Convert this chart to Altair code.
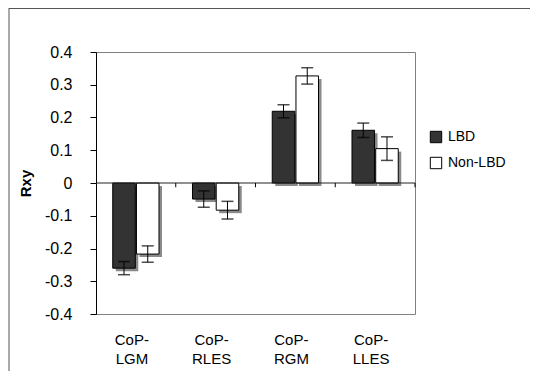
import altair as alt
import pandas as pd

categories = ["CoP-LGM", "CoP-RLES", "CoP-RGM", "CoP-LLES"]
groups = ["LBD", "Non-LBD"]
lbd_values = [-0.26, -0.049, 0.219, 0.161]
lbd_errors = [0.02, 0.025, 0.02, 0.022]
non_values = [-0.217, -0.083, 0.327, 0.105]
non_errors = [0.025, 0.027, 0.025, 0.036]
y_ticks = [-0.4, -0.3, -0.2, -0.1, 0, 0.1, 0.2, 0.3, 0.4]
group_colors = ["#333333", "#ffffff"]

rows = []
for i, c in enumerate(categories):
    rows.append({"cat": c, "group": "LBD", "value": lbd_values[i],
                 "lo": lbd_values[i] - lbd_errors[i], "hi": lbd_values[i] + lbd_errors[i]})
    rows.append({"cat": c, "group": "Non-LBD", "value": non_values[i],
                 "lo": non_values[i] - non_errors[i], "hi": non_values[i] + non_errors[i]})
df = pd.DataFrame(rows)
cat_df = pd.DataFrame({"cat": categories})
zero_df = pd.DataFrame({"z": [0]})

FONT = "Liberation Sans"
W, H = 319, 262
P_IN = 0.42
step = W / len(categories)
bandw = step * (1 - P_IN)
SH = 3  # shadow offset in px

x_enc = alt.X("cat:N", sort=categories, title=None,
              scale=alt.Scale(paddingInner=P_IN, paddingOuter=P_IN / 2),
              axis=alt.Axis(labelAngle=0, ticks=False, domain=False,
                            labelExpr="[slice(datum.label,0,4), slice(datum.label,4)]",
                            labelFont=FONT, labelFontSize=15, labelLineHeight=19,
                            labelPadding=18, labelOffset=-4, labelColor="black"))
xo_enc = alt.XOffset("group:N", sort=groups,
                     scale=alt.Scale(paddingInner=0.05, range=[0, bandw]))
xo_shadow = alt.XOffset("group:N", sort=groups,
                        scale=alt.Scale(paddingInner=0.05, range=[SH, bandw + SH]))

y_scale = alt.Scale(domain=[-0.4, 0.4], nice=False, zero=False)
y_axis = alt.Axis(values=y_ticks, grid=False, domainColor="black",
                  tickColor="black", tickSize=6, labelPadding=18,
                  labelOverlap=False, tickCount=9,
                  labelExpr="(datum.value < 0 ? '-' : '') + format(abs(datum.value), '.1~f')",
                  labelFont=FONT, labelFontSize=16, labelColor="black",
                  titleFont=FONT, titleFontSize=15, titleFontWeight="bold",
                  titleX=-71, titleY=131, titleAlign="center",
                  titleBaseline="middle", titleColor="black")


def Y(field):
    return alt.Y(field, title="Rxy", scale=y_scale, axis=y_axis)


base = alt.Chart(df)

shadow = base.mark_bar(color="#8a8a8a", yOffset=SH, y2Offset=SH).encode(
    x=x_enc, xOffset=xo_shadow, y=Y("value:Q"))

bars = base.mark_bar(stroke="black", strokeWidth=1).encode(
    x=x_enc, xOffset=xo_enc, y=Y("value:Q"),
    color=alt.Color("group:N", sort=groups,
                    scale=alt.Scale(domain=groups, range=group_colors),
                    legend=alt.Legend(title=None, orient="none", legendX=333, legendY=78,
                                      symbolType="square", symbolSize=130,
                                      symbolStrokeColor="black", symbolStrokeWidth=1,
                                      labelFont=FONT, labelFontSize=14, labelColor="black",
                                      labelOffset=5, rowPadding=10, padding=0)))

zero_line = alt.Chart(zero_df).mark_rule(color="#222222", strokeWidth=1).encode(
    y=Y("z:Q"))

zero_ticks = alt.Chart(cat_df).mark_rule(color="black", strokeWidth=1,
                                         xOffset=P_IN * step / 2).encode(
    x=alt.X("cat:N", sort=categories, bandPosition=1),
    y=alt.datum(0), y2=alt.datum(-0.013))

err_rule = base.mark_rule(color="black", strokeWidth=1).encode(
    x=x_enc, xOffset=xo_enc, y=Y("lo:Q"), y2="hi:Q")
cap_lo = base.mark_tick(color="black", size=12, thickness=1.5, orient="horizontal").encode(
    x=x_enc, xOffset=xo_enc, y=Y("lo:Q"))
cap_hi = base.mark_tick(color="black", size=12, thickness=1.5, orient="horizontal").encode(
    x=x_enc, xOffset=xo_enc, y=Y("hi:Q"))

frame_top = alt.Chart(zero_df).mark_rule(color="#555555", strokeWidth=1).encode(
    x=alt.value(-87), x2=alt.value(W + 115), y=alt.value(-43.5))
frame_left = alt.Chart(zero_df).mark_rule(color="#555555", strokeWidth=1).encode(
    x=alt.value(-87), y=alt.value(-44), y2=alt.value(H + 57))

chart = alt.layer(
    shadow, bars, zero_line, zero_ticks, err_rule, cap_lo, cap_hi, frame_top, frame_left
).resolve_scale(xOffset="independent").properties(
    width=W, height=H,
    autosize=alt.AutoSizeParams(type="none"),
    padding={"left": 88, "top": 44, "right": 115, "bottom": 57},
    background="white",
).configure_view(stroke="#808080", strokeWidth=1)

chart.save("out.html", embed_options={"renderer": "svg", "actions": False})
